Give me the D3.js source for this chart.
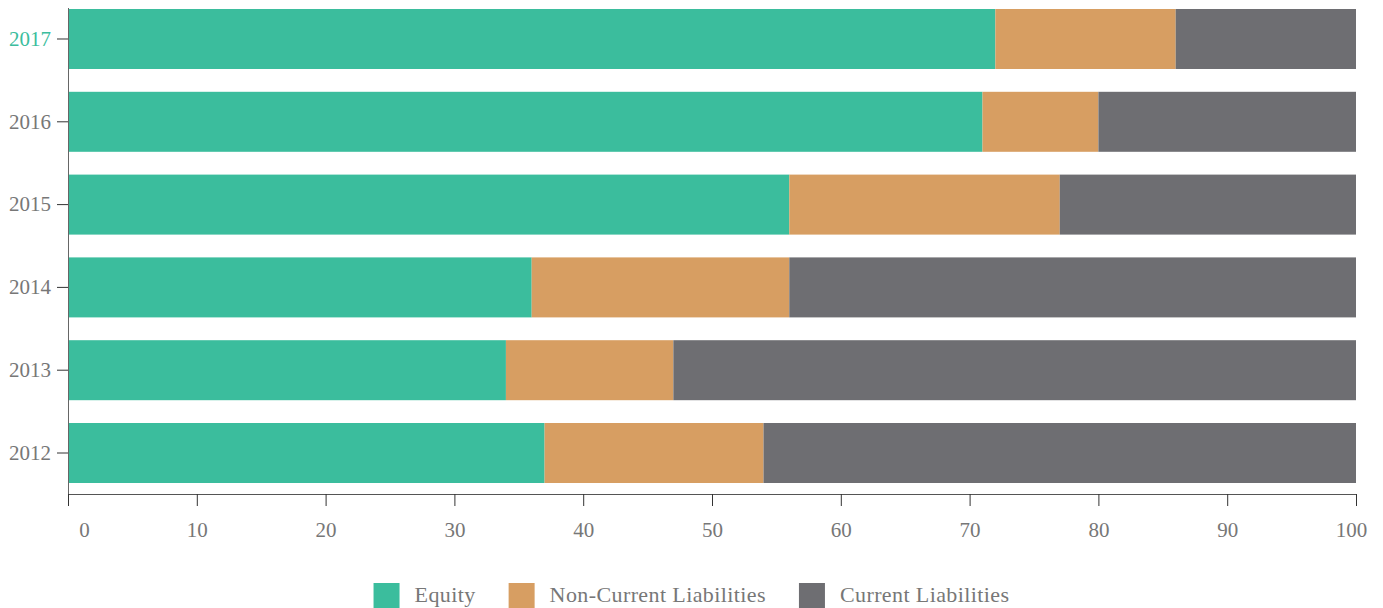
<!DOCTYPE html>
<html>
<head>
<meta charset="utf-8">
<script src="https://cdn.jsdelivr.net/npm/d3@7"></script>
<style>
  html, body { margin: 0; padding: 0; background: #fff; }
  svg { display: block; font-family: "Liberation Serif", "Times New Roman", serif; }
</style>
</head>
<body>
<svg id="chart" width="1383" height="608"></svg>
<script>
// Capital structure by year, in percent of total
const years = ["2012", "2013", "2014", "2015", "2016", "2017"];
const equity = [37, 34, 36, 56, 71, 72];
const nonCurrentLiabilities = [17, 13, 20, 21, 9, 14];
const currentLiabilities = [46, 53, 44, 23, 20, 14];
const seriesNames = ["Equity", "Non-Current Liabilities", "Current Liabilities"];
const xTicks = [0, 10, 20, 30, 40, 50, 60, 70, 80, 90, 100];
const highlightYear = "2017";

const colors = ["#3bbd9d", "#d79e62", "#6e6e72"];
const textGray = "#777";

const rows = years.map((y, i) => ({
  year: y,
  "Equity": equity[i],
  "Non-Current Liabilities": nonCurrentLiabilities[i],
  "Current Liabilities": currentLiabilities[i]
}));

const svg = d3.select("#chart");

const left = 68, right = 1356, axisY = 494;

const x = d3.scaleLinear().domain([0, 100]).range([left, right]);
const y = d3.scaleBand()
  .domain(years.slice().reverse())
  .range([9, 483])
  .paddingInner(0.2754)
  .paddingOuter(0);

const stack = d3.stack().keys(seriesNames);
const layers = stack(rows);

// Stacked bars
svg.append("g")
  .selectAll("g")
  .data(layers)
  .join("g")
  .attr("fill", (d, i) => colors[i])
  .selectAll("rect")
  .data(d => d)
  .join("rect")
  .attr("x", d => x(d[0]))
  .attr("y", d => y(d.data.year))
  .attr("width", d => x(d[1]) - x(d[0]))
  .attr("height", y.bandwidth());

// Y axis
const yAxis = svg.append("g")
  .attr("transform", `translate(${left},0)`)
  .call(d3.axisLeft(y).tickSize(11).tickPadding(6).tickSizeOuter(0));
yAxis.select(".domain")
  .attr("d", `M0.5,8V${axisY}`)
  .attr("stroke", "#666");
yAxis.selectAll(".tick line").attr("stroke", "#333");
yAxis.selectAll(".tick text")
  .attr("font-size", 21)
  .attr("font-family", "Liberation Serif")
  .attr("fill", d => d === highlightYear ? colors[0] : textGray);

// X axis
const xAxis = svg.append("g")
  .attr("transform", `translate(0,${axisY})`)
  .call(d3.axisBottom(x).tickValues(xTicks).tickSize(12).tickSizeOuter(0));
xAxis.select(".domain").attr("stroke", "#555");
xAxis.selectAll(".tick line").attr("stroke", "#333");
xAxis.selectAll(".tick text")
  .attr("font-size", 21)
  .attr("font-family", "Liberation Serif")
  .attr("fill", textGray)
  .attr("y", 43)
  .attr("dy", 0)
  .attr("dx", d => d === 0 ? 16 : (d === 100 ? -5 : 0));

// Legend, centred under the chart
const legend = svg.append("g").attr("font-size", 22).attr("letter-spacing", 0.4);
const items = legend.selectAll("g")
  .data(seriesNames)
  .join("g");
items.append("rect")
  .attr("width", 26)
  .attr("height", 26)
  .attr("y", 583)
  .attr("fill", (d, i) => colors[i]);
items.append("text")
  .attr("x", 41)
  .attr("y", 602)
  .attr("fill", textGray)
  .text(d => d);

let cursor = 0;
const offsets = [];
items.each(function () {
  offsets.push(cursor);
  const w = 41 + this.querySelector("text").getComputedTextLength();
  cursor += w + 33;
});
const totalWidth = cursor - 33;
const startX = (1383 - totalWidth) / 2;
items.attr("transform", (d, i) => `translate(${startX + offsets[i]},0)`);
</script>
</body>
</html>
